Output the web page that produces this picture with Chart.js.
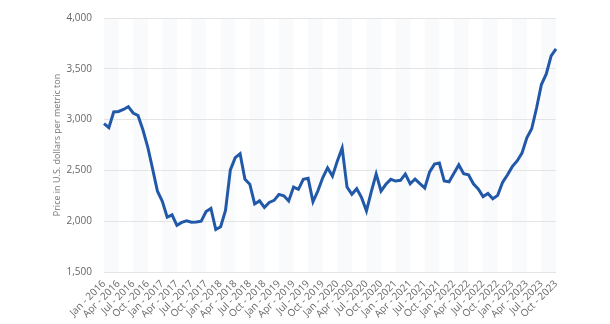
<!DOCTYPE html>
<html>
<head>
<meta charset="utf-8" />
<title>Price per metric ton</title>
<script src="https://cdn.jsdelivr.net/npm/chart.js"></script>
<style>
  html, body { margin: 0; padding: 0; background: #fff; }
  #wrap { width: 610px; height: 324px; position: relative; }
</style>
</head>
<body>
<div id="wrap"><canvas id="priceChart"></canvas></div>
<script>
// monthly prices, Jan 2016 - Oct 2023 (US$ per metric ton)
const monthNames = ['Jan', 'Feb', 'Mar', 'Apr', 'May', 'Jun', 'Jul', 'Aug', 'Sep', 'Oct', 'Nov', 'Dec'];
const years = [2016, 2017, 2018, 2019, 2020, 2021, 2022, 2023];
const prices = [
  2960, 2920, 3075, 3080, 3100, 3128, 3065, 3040, 2900, 2730, 2515, 2295,
  2195, 2039, 2063, 1960, 1988, 2004, 1990, 1993, 2000, 2095, 2126, 1918,
  1946, 2105, 2505, 2625, 2663, 2413, 2364, 2170, 2200, 2135, 2185, 2205,
  2264, 2250, 2199, 2336, 2314, 2412, 2422, 2192, 2297, 2427, 2525, 2444,
  2591, 2721, 2336, 2265, 2320, 2232, 2101, 2290, 2465, 2297, 2363, 2412,
  2395, 2402, 2464, 2369, 2415, 2370, 2327, 2485, 2562, 2572, 2397, 2388,
  2472, 2554, 2467, 2456, 2368, 2318, 2242, 2273, 2221, 2254, 2381, 2455,
  2537, 2593, 2670, 2820, 2910, 3114, 3345, 3450, 3627, 3695
];
const yTicks = [1500, 2000, 2500, 3000, 3500, 4000];

const labels = [];
years.forEach(y => monthNames.forEach(m => labels.push(m + ' - ' + y)));
labels.length = prices.length;

// faint columns behind every other quarter
const quarterBands = {
  id: 'quarterBands',
  beforeDraw(chart) {
    const { ctx, chartArea, scales } = chart;
    ctx.save();
    ctx.fillStyle = '#f9fafb';
    for (let i = 0; i + 3 < labels.length; i += 6) {
      const x0 = scales.x.getPixelForValue(i);
      const x1 = scales.x.getPixelForValue(i + 3);
      ctx.fillRect(x0, chartArea.top, x1 - x0, chartArea.bottom - chartArea.top);
    }
    ctx.restore();
  }
};

const font = { family: '"Open Sans", sans-serif', size: 10 };

new Chart(document.getElementById('priceChart'), {
  type: 'line',
  data: {
    labels: labels,
    datasets: [{
      data: prices,
      borderColor: '#2159a8',
      borderWidth: 3,
      pointRadius: 0,
      tension: 0,
      fill: false
    }]
  },
  options: {
    responsive: true,
    maintainAspectRatio: false,
    animation: false,
    layout: { padding: { top: 15, right: 54, left: 52, bottom: 0 } },
    plugins: { legend: { display: false }, tooltip: { enabled: false } },
    scales: {
      x: {
        offset: false,
        afterFit(scale) { scale.height = 52; },
        grid: { display: false, drawTicks: false },
        border: { display: false },
        ticks: {
          autoSkip: false,
          maxRotation: 45,
          minRotation: 45,
          padding: 6,
          color: '#666',
          font: font,
          callback(v, i) { return i % 3 === 0 ? labels[i] : null; }
        }
      },
      y: {
        min: 1500,
        max: 4000,
        afterFit(scale) { scale.width = 52; },
        afterBuildTicks(scale) { scale.ticks = yTicks.map(v => ({ value: v })); },
        grid: { color: '#e4e4e4', drawTicks: false, lineWidth: 1 },
        border: { display: false },
        ticks: {
          padding: 12,
          color: '#666',
          font: font,
          callback(v) { return v.toLocaleString('en-US'); }
        },
        title: {
          display: true,
          text: 'Price in U.S. dollars per metric ton',
          color: '#777',
          font: { family: '"Open Sans", sans-serif', size: 9 },
          padding: { top: 0, bottom: 0 }
        }
      }
    }
  },
  plugins: [quarterBands]
});
</script>
</body>
</html>
